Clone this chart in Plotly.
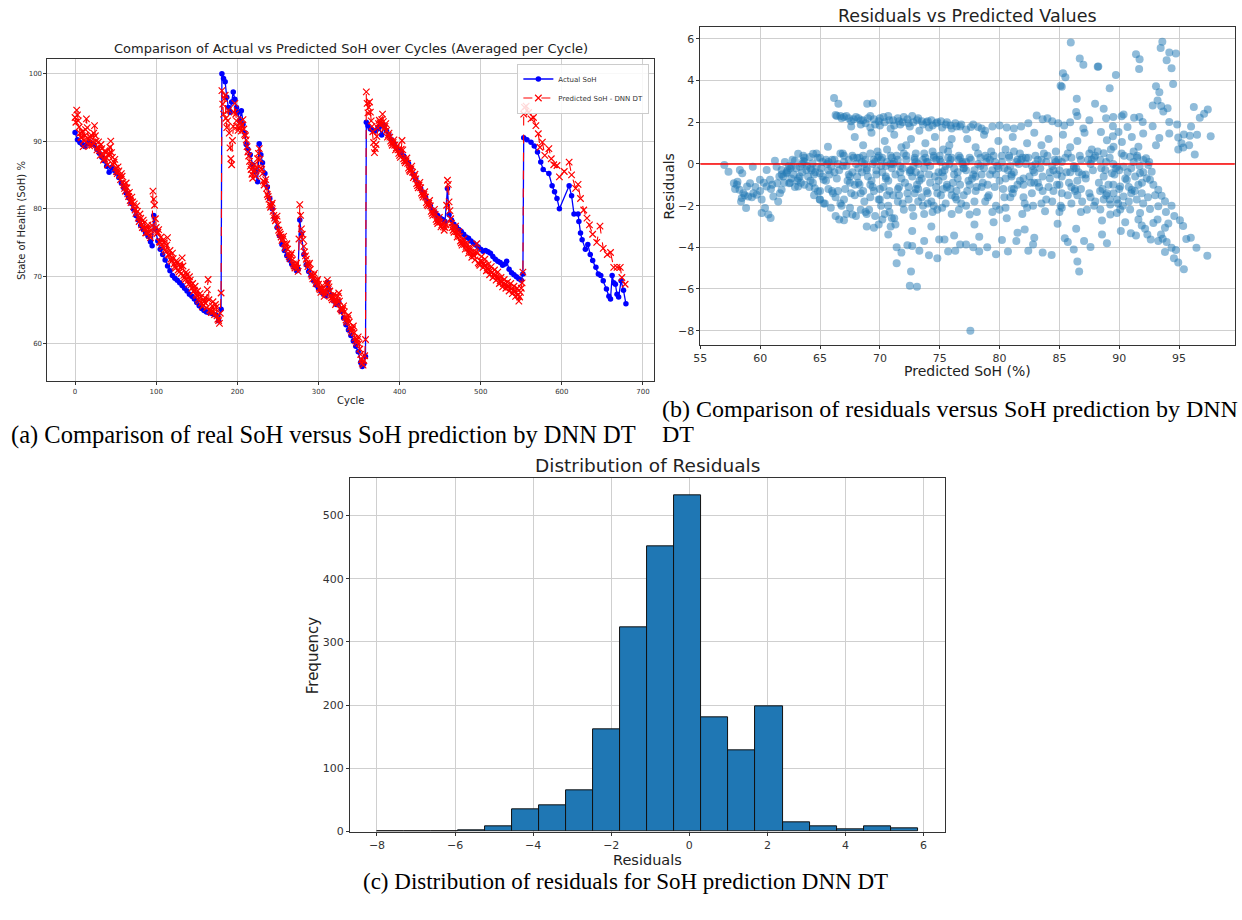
import plotly.graph_objects as go

# ---------------- Panel (a): SoH per cycle ----------------
act_cycles_1 = [0, 3, 6, 9, 12, 15, 18, 21, 24, 27, 30, 33, 36, 39, 42, 45, 48, 51, 54, 57,
                60, 63, 66, 69, 72, 75, 78, 81, 84, 87, 90, 93, 95, 97, 99, 102, 105, 108, 111, 114,
                117, 120, 123, 126, 129, 132, 135, 138, 141, 144, 147, 150, 153, 156, 159, 162, 165, 168, 171, 174,
                177, 180]
act_soh_1 = [91.3, 90.2, 89.8, 89.5, 89.2, 89.6, 89.9, 89.6, 89.4, 88.8, 88.2, 87.6, 87.1, 86.3, 85.4, 86.1, 85.7, 85.3, 84.6, 83.8,
             83.1, 82.3, 81.6, 80.8, 79.9, 79.0, 78.3, 77.5, 76.9, 76.4, 75.9, 75.1, 74.5, 79.0, 77.0, 75.2, 74.0, 73.2, 72.4, 71.5,
             70.8, 70.1, 69.7, 69.4, 69.0, 68.6, 68.2, 67.8, 67.3, 67.0, 66.6, 66.1, 65.6, 65.2, 64.9, 64.7, 64.6, 64.5, 64.3, 64.2,
             63.4, 65.1]
act_cycles_2 = [181, 183, 185, 187, 189, 191, 193, 195, 197, 199, 201, 203, 205, 207, 209, 211, 213, 216, 219, 222,
                225, 227, 229, 231, 234, 237, 240, 243, 246, 249, 252, 255, 258, 261, 264, 267, 270, 273, 275, 277,
                279, 282, 285, 288, 291, 294, 297, 300, 303, 306, 309, 311, 313, 316, 319, 322, 325, 328, 331, 334,
                337, 340, 343, 346, 349, 352, 354, 356, 358]
act_soh_2 = [100.0, 99.3, 98.8, 96.5, 95.0, 94.3, 95.8, 97.3, 96.2, 95.0, 94.3, 93.0, 94.5, 92.5, 91.3, 89.5, 88.8, 88.0, 86.5, 85.5,
             84.0, 89.6, 88.0, 86.8, 85.2, 83.2, 81.5, 80.0, 78.6, 77.2, 76.0, 74.7, 73.8, 73.0, 72.4, 71.8, 71.3, 70.8, 71.0, 78.3,
             76.2, 73.2, 71.7, 70.7, 70.1, 69.3, 68.7, 68.2, 67.8, 67.4, 67.1, 69.1, 68.0, 67.2, 66.3, 65.8, 66.2, 64.8, 63.8, 62.8,
             62.0, 61.2, 60.4, 59.6, 58.8, 57.2, 56.6, 57.0, 58.1]
act_cycles_3 = [359, 361, 364, 367, 370, 373, 375, 378, 381, 384, 387, 390, 393, 396, 399, 402, 405, 408, 411, 414,
                417, 420, 423, 426, 429, 432, 435, 438, 441, 444, 447, 450, 453, 456, 459, 461, 464, 467, 470, 473,
                476, 479, 482, 485, 488, 491, 494, 497, 500, 503, 506, 509, 512, 515, 518, 521, 524, 527, 530, 532,
                535, 538, 541, 544, 547, 550, 552]
act_soh_3 = [92.8, 92.3, 91.8, 91.6, 91.5, 91.8, 92.1, 90.9, 92.3, 91.5, 90.9, 90.2, 89.6, 89.1, 88.7, 88.3, 87.8, 87.2, 86.7, 86.0,
             85.1, 84.4, 83.6, 83.0, 82.4, 81.7, 81.0, 80.4, 79.8, 79.4, 79.0, 78.6, 78.4, 78.1, 83.0, 79.1, 78.3, 77.7, 77.3, 76.9,
             76.6, 76.2, 75.8, 75.6, 75.2, 74.9, 74.6, 74.3, 74.0, 73.7, 73.8, 73.6, 73.4, 72.9, 72.5, 72.2, 72.0, 71.6, 71.8, 72.2,
             71.0, 70.5, 70.2, 69.9, 69.6, 69.4, 70.3]
act_cycles_4 = [553, 557, 562, 566, 570, 574, 577, 584, 588, 591, 594, 597, 609, 612, 615, 620, 621, 623, 625, 629,
                632, 635, 638, 642, 645, 648, 651, 655, 658, 660, 662, 664, 666, 668, 670, 673, 676, 679]
act_soh_4 = [90.5, 90.2, 89.85, 89.3, 88.4, 86.9, 85.8, 85.2, 83.4, 82.5, 81.5, 80.0, 83.4, 81.9, 79.2, 79.2, 78.1, 76.4, 75.4, 74.0,
             74.7, 73.2, 72.3, 71.3, 70.3, 70.1, 69.3, 68.1, 67.0, 66.6, 70.1, 69.0, 68.8, 67.3, 66.9, 69.3, 67.9, 65.9]

pred_cycles_1 = [0, 2, 4, 6, 8, 10, 12, 14, 16, 18, 20, 22, 24, 26, 28, 30, 32, 34, 36, 38,
                 40, 42, 44, 46, 48, 50, 52, 54, 56, 58, 60, 62, 64, 66, 68, 70, 72, 74, 76, 78,
                 80, 82, 84, 86, 88, 90, 92, 94, 96, 98, 100, 102, 104, 106, 108, 110, 112, 114, 116, 118,
                 120, 122, 124, 126, 128, 130, 132, 134, 136, 138, 140, 142, 144, 146, 148, 150, 152, 154, 156, 158,
                 160, 162, 164, 166, 168, 170, 172, 174, 176, 178, 180]
pred_soh_1 = [93.5, 94.6, 93.0, 91.2, 90.5, 89.2, 90.8, 93.3, 90.4, 89.3, 90.9, 89.8, 92.3, 90.0, 89.1, 88.6, 89.5, 88.0, 87.4, 88.3,
              86.5, 88.2, 90.0, 87.6, 86.9, 86.0, 85.2, 85.6, 84.3, 84.8, 83.5, 82.6, 83.1, 81.8, 81.2, 81.7, 80.3, 79.8, 80.4, 78.6,
              79.2, 77.6, 78.3, 77.0, 76.4, 77.6, 76.0, 76.8, 82.6, 80.5, 77.2, 76.5, 75.1, 75.8, 74.3, 74.9, 73.6, 75.7, 73.1, 72.5,
              73.4, 71.8, 71.2, 72.0, 70.6, 71.3, 72.7, 70.1, 69.5, 70.2, 68.8, 69.4, 68.2, 67.7, 68.5, 67.1, 66.6, 67.4, 66.0, 65.7,
              66.8, 65.3, 69.5, 65.0, 64.6, 66.2, 64.3, 65.4, 63.6, 63.0, 67.5]
pred_cycles_1b = [1, 3, 5, 7, 9, 11, 13, 15, 17, 19, 21, 23, 25, 27, 29, 31, 33, 35, 37, 39,
                  41, 43, 45, 47, 49, 51, 53, 55, 57, 59, 61, 63, 65, 67, 69, 71, 73, 75, 77, 79,
                  81, 83, 85, 87, 89, 91, 93, 95, 97, 99, 101, 103, 105, 107, 109, 111, 113, 115, 117, 119,
                  121, 123, 125, 127, 129, 131, 133, 135, 137, 139, 141, 143, 145, 147, 149, 151, 153, 155, 157, 159,
                  161, 163, 165, 167, 169, 171, 173, 175, 177, 179]
pred_soh_1b = [92.8, 93.9, 92.1, 90.6, 91.4, 90.1, 91.7, 92.0, 89.6, 90.6, 89.4, 91.2, 90.8, 88.7, 89.9, 87.9, 88.9, 87.2, 88.6, 87.5,
               87.9, 89.1, 88.3, 86.5, 87.3, 85.5, 86.2, 84.9, 85.2, 83.9, 83.0, 83.8, 82.2, 82.4, 80.9, 81.0, 80.7, 79.3, 79.6, 78.1,
               78.6, 77.2, 77.9, 76.4, 77.1, 76.5, 75.7, 77.5, 81.4, 78.5, 76.3, 76.9, 75.0, 74.7, 75.4, 73.9, 74.6, 73.2, 73.8, 72.2,
               72.6, 71.4, 72.3, 70.9, 71.7, 70.4, 71.5, 69.8, 70.6, 69.3, 69.9, 68.7, 68.9, 67.9, 67.3, 67.8, 66.3, 66.9, 65.5, 66.2,
               66.0, 68.0, 66.5, 64.9, 65.6, 64.7, 65.8, 64.1, 63.4, 64.5]
pred_cycles_2 = [181, 183, 185, 187, 189, 191, 193, 195, 197, 199, 201, 203, 205, 207, 209, 211, 213, 215, 217, 219,
                 221, 223, 225, 227, 229, 231, 233, 235, 237, 239, 241, 243, 245, 247, 249, 251, 253, 255, 257, 259,
                 261, 263, 265, 267, 269, 271, 273, 275, 277, 279, 281, 283, 285, 287, 289, 291, 293, 295, 297, 299,
                 301, 303, 305, 307, 309, 311, 313, 315, 317, 319, 321, 323, 325, 327, 329, 331, 333, 335, 337, 339,
                 341, 343, 345, 347, 349, 351, 353, 355, 357, 358]
pred_soh_2 = [97.5, 94.0, 96.8, 92.0, 94.6, 89.0, 86.5, 92.2, 95.6, 93.0, 91.6, 92.7, 91.5, 93.2, 91.0, 90.2, 88.4, 87.0, 85.8, 84.5,
              86.5, 84.8, 87.4, 88.9, 86.0, 85.2, 83.5, 84.3, 82.1, 81.4, 80.2, 80.8, 79.0, 78.2, 78.9, 76.8, 76.2, 75.3, 75.9, 74.2,
              74.8, 73.3, 72.6, 73.4, 71.8, 71.2, 71.9, 70.7, 80.6, 77.0, 75.4, 73.6, 72.5, 71.4, 71.9, 70.3, 69.6, 70.4, 68.9, 69.5,
              68.2, 67.6, 68.6, 67.0, 67.8, 69.4, 68.4, 67.1, 66.5, 67.3, 65.8, 66.4, 67.5, 65.2, 64.8, 65.6, 63.9, 63.2, 64.2, 62.4,
              61.7, 62.6, 60.8, 60.1, 61.0, 59.2, 57.6, 56.8, 58.2, 60.6]
pred_cycles_2b = [182, 184, 186, 188, 190, 192, 194, 196, 198, 200, 202, 204, 206, 208, 210, 212, 214, 216, 218, 220,
                  222, 224, 226, 228, 230, 232, 234, 236, 238, 240, 242, 244, 246, 248, 250, 252, 254, 256, 258, 260,
                  262, 264, 266, 268, 270, 272, 274, 276, 278, 280, 282, 284, 286, 288, 290, 292, 294, 296, 298, 300,
                  302, 304, 306, 308, 310, 312, 314, 316, 318, 320, 322, 324, 326, 328, 330, 332, 334, 336, 338, 340,
                  342, 344, 346, 348, 350, 352, 354, 356]
pred_soh_2b = [95.5, 96.3, 93.4, 93.0, 91.2, 87.4, 90.1, 94.3, 94.0, 92.2, 92.0, 92.9, 92.4, 91.8, 90.8, 89.2, 87.8, 86.3, 85.1, 85.6,
               85.7, 86.0, 88.2, 87.3, 85.8, 84.1, 83.9, 83.0, 81.8, 80.6, 80.5, 79.6, 78.6, 78.4, 77.6, 76.5, 75.8, 75.5, 74.8, 74.6,
               74.0, 72.9, 73.1, 72.4, 71.5, 71.6, 71.2, 75.5, 79.0, 76.2, 74.4, 73.0, 71.9, 71.7, 71.0, 70.0, 70.1, 69.4, 69.2, 68.8,
               68.0, 68.1, 67.7, 67.4, 68.8, 68.9, 67.8, 66.8, 66.9, 66.5, 66.1, 67.0, 66.3, 65.0, 65.2, 64.7, 63.5, 63.7, 63.2, 62.0,
               62.2, 61.6, 60.4, 60.6, 60.0, 58.4, 57.1, 57.5]
pred_cycles_3 = [359, 361, 363, 365, 367, 369, 371, 373, 375, 377, 379, 381, 383, 385, 387, 389, 391, 393, 395, 397,
                 399, 401, 403, 405, 407, 409, 411, 413, 415, 417, 419, 421, 423, 425, 427, 429, 431, 433, 435, 437,
                 439, 441, 443, 445, 447, 449, 451, 453, 455, 457, 459, 461, 463, 465, 467, 469, 471, 473, 475, 477,
                 479, 481, 483, 485, 487, 489, 491, 493, 495, 497, 499, 501, 503, 505, 507, 509, 511, 513, 515, 517,
                 519, 521, 523, 525, 527, 529, 531, 533, 535, 537, 539, 541, 543, 545, 547, 549, 551, 552]
pred_soh_3 = [97.3, 94.2, 95.8, 93.0, 91.4, 88.3, 89.5, 92.0, 93.1, 92.4, 94.0, 91.8, 92.6, 90.6, 91.2, 90.0, 89.4, 90.2, 88.7, 89.3,
              88.2, 87.6, 90.1, 87.4, 86.8, 87.5, 86.0, 85.5, 86.3, 84.6, 85.1, 83.7, 83.1, 83.9, 82.3, 81.7, 82.5, 80.9, 80.4, 81.2,
              79.6, 79.0, 79.9, 78.4, 77.8, 78.7, 77.3, 77.9, 76.8, 77.6, 84.2, 81.0, 78.5, 77.2, 76.5, 77.4, 75.8, 76.6, 75.2, 74.6,
              75.5, 74.0, 74.8, 73.4, 74.2, 72.8, 73.6, 72.4, 74.8, 72.0, 71.6, 72.9, 71.3, 72.5, 70.8, 71.7, 70.2, 71.4, 69.8, 70.9,
              69.4, 70.6, 68.9, 69.8, 68.4, 69.5, 68.2, 69.1, 67.8, 68.9, 67.4, 68.5, 67.0, 68.2, 66.3, 67.6, 69.0, 70.6]
pred_cycles_3b = [360, 362, 364, 366, 368, 370, 372, 374, 376, 378, 380, 382, 384, 386, 388, 390, 392, 394, 396, 398,
                  400, 402, 404, 406, 408, 410, 412, 414, 416, 418, 420, 422, 424, 426, 428, 430, 432, 434, 436, 438,
                  440, 442, 444, 446, 448, 450, 452, 454, 456, 458, 460, 462, 464, 466, 468, 470, 472, 474, 476, 478,
                  480, 482, 484, 486, 488, 490, 492, 494, 496, 498, 500, 502, 504, 506, 508, 510, 512, 514, 516, 518,
                  520, 522, 524, 526, 528, 530, 532, 534, 536, 538, 540, 542, 544, 546, 548, 550]
pred_soh_3b = [95.6, 95.0, 94.3, 92.2, 89.8, 88.9, 90.7, 92.6, 92.7, 93.2, 92.9, 92.2, 91.6, 90.9, 90.6, 89.7, 89.8, 89.4, 89.0, 88.7,
               87.9, 88.8, 88.7, 87.1, 87.1, 86.7, 85.7, 85.9, 85.4, 84.8, 84.4, 83.4, 83.5, 83.1, 82.0, 82.1, 81.7, 80.6, 80.8, 80.4,
               79.3, 79.4, 79.1, 78.1, 78.2, 78.0, 77.6, 77.3, 77.2, 80.5, 83.6, 79.7, 77.8, 76.8, 77.0, 76.6, 76.2, 75.9, 74.9, 75.0,
               74.7, 74.4, 74.1, 73.8, 73.5, 73.2, 73.0, 73.6, 73.4, 71.8, 72.2, 72.1, 71.9, 71.6, 71.2, 70.9, 70.8, 70.6, 70.3, 70.1,
               70.0, 69.7, 69.3, 69.1, 68.9, 68.8, 68.6, 68.4, 68.3, 68.1, 67.9, 67.7, 67.6, 67.2, 66.9, 68.2]
pred_cycles_4 = [553, 554, 556, 559, 562, 565, 568, 571, 573, 576, 579, 584, 587, 590, 594, 597, 603, 609, 612, 617,
                 620, 623, 627, 631, 634, 638, 643, 647, 651, 656, 660, 664, 668, 672, 674, 678]
pred_soh_4 = [94.0, 95.0, 95.2, 94.25, 93.3, 93.5, 92.3, 91.1, 89.1, 89.85, 87.9, 88.9, 87.4, 86.5, 86.4, 84.7, 85.5, 86.9, 85.0, 83.0,
              83.6, 81.5, 79.8, 78.6, 77.6, 76.2, 75.0, 77.4, 74.1, 73.2, 73.5, 71.3, 71.3, 71.3, 69.8, 68.8]

# ---------------- Panel (b): residuals vs predicted ----------------
pred_b1 = [57.0, 57.35, 57.8, 58.05, 58.3, 58.5, 58.27, 58.6, 58.9, 59.15,
           58.46, 58.82, 59.0, 59.43, 59.38, 59.7, 59.98, 60.12, 60.4, 60.12,
           60.68, 60.87, 60.54, 60.82, 60.54, 61.23, 61.1, 61.43, 61.65, 61.79,
           61.37, 61.79, 62.06, 61.93, 62.2, 62.42, 62.62, 62.9, 63.17, 63.3,
           63.17, 63.59, 63.86, 64.14, 64.42, 64.36, 64.7, 64.56, 64.83, 64.97,
           65.3, 65.66, 65.94, 66.08, 64.97, 57.9, 58.1, 58.7, 59.6, 60.0,
           61.0, 61.6, 62.3, 62.6, 62.8, 63.0, 63.5, 63.7, 64.0, 64.3,
           64.8, 65.1, 65.5, 65.8, 62.0, 62.5, 63.3, 63.9, 64.6, 65.2,
           65.7, 66.0, 60.3, 59.3, 61.8, 62.4, 63.6, 64.2, 65.0, 65.6,
           64.5, 65.0, 65.4, 65.9, 64.1, 63.4, 62.9, 61.5, 60.9, 58.4]
resid_b1 = [-0.05, -0.37, -0.92, -1.0, -0.29, -0.44, -1.24, -1.4, -1.08, -0.92,
            -1.63, -2.11, -1.56, -1.4, -0.13, -1.48, -0.76, -1.71, -2.11, -2.35,
            -2.43, -2.59, -0.29, -0.76, -1.08, 0.16, -1.56, -0.92, -1.4, -1.24,
            -0.13, -0.29, 0.1, -0.6, -0.44, -0.92, -0.13, 0.16, 0.49, -0.13,
            -1.08, 0.16, -0.29, 0.33, 0.49, 0.02, -0.13, -1.16, -1.32, -0.44,
            -0.76, 0.83, -0.13, -1.4, -1.71, -1.2, -0.85, -1.5, -1.1, -1.3,
            -1.0, -0.6, -0.3, -0.7, -0.5, -0.2, -0.4, 0.1, -0.6, -0.3,
            0.3, -0.2, 0.2, -0.5, -0.9, -0.2, -0.6, -0.1, -0.4, 0.1,
            -0.3, 0.2, -0.9, -1.6, -0.5, -0.1, 0.4, -0.8, 0.3, 0.0,
            -1.5, -1.7, -1.9, -2.1, -1.1, -0.9, -1.1, -1.8, -1.2, -1.8]
pred_b2 = [66.17, 66.53, 68.94, 69.4, 66.4, 66.7, 67.0, 67.4, 67.8, 68.2,
           68.6, 69.0, 69.5, 69.9, 70.3, 70.7, 71.1, 71.5, 71.9, 72.3,
           72.7, 73.1, 73.5, 73.9, 74.3, 74.7, 75.1, 75.5, 75.9, 76.3,
           76.7, 67.6, 68.4, 69.2, 70.0, 70.9, 71.7, 72.5, 73.3, 74.1,
           67.9, 68.6, 69.3, 69.8, 70.4, 71.2, 71.8, 72.6, 73.0, 73.8,
           74.6, 75.3, 76.0, 76.6, 68.1, 70.6, 72.2, 74.4, 75.8, 66.9,
           66.2, 66.6, 67.0, 67.4, 67.8, 68.2, 68.6, 69.0, 69.4, 69.8,
           70.2, 70.6, 71.0, 71.4, 71.8, 72.2, 72.6, 73.0, 73.4, 73.8,
           74.2, 74.6, 75.0, 75.4, 75.8, 76.2, 76.6, 77.0, 66.4, 66.9,
           67.3, 67.7, 68.1, 68.5, 68.9, 69.3, 69.7, 70.1, 70.5, 70.9,
           71.3, 71.7, 72.1, 72.5, 72.9, 73.3, 73.7, 74.1, 74.5, 74.9,
           75.3, 75.7, 76.1, 76.5, 76.9, 68.0, 69.6, 71.1, 72.8, 74.0,
           66.3, 66.7, 67.1, 67.5, 67.9, 68.3, 68.7, 69.1, 69.5, 69.9,
           70.3, 70.7, 71.1, 71.5, 71.9, 72.3, 72.7, 73.1, 73.5, 73.9,
           74.3, 74.7, 75.1, 75.5, 75.9, 76.3, 76.7, 67.2, 68.0, 68.8,
           69.6, 70.4, 71.2, 72.0, 72.8, 73.6, 74.4, 75.2, 76.0, 76.8,
           66.6, 67.7, 68.9, 69.5, 70.2, 70.9, 71.3, 70.7, 71.4, 71.8,
           71.4, 72.3, 72.7, 72.7, 73.3, 73.7, 74.3, 74.1, 74.8, 74.95,
           75.4, 75.7, 76.2, 76.3, 76.7, 72.6, 72.5, 73.1, 67.0, 69.9,
           66.5, 67.5, 68.4, 69.2, 70.0, 70.8, 71.6, 72.4, 73.2, 74.0,
           74.8, 75.6, 76.4, 67.0, 68.8, 70.5, 72.0, 73.6, 75.0, 76.0]
resid_b2 = [3.17, 2.89, 2.89, 2.92, 2.3, 2.3, 2.25, 2.2, 2.15, 2.2,
            2.1, 2.2, 2.15, 2.05, 2.25, 2.3, 2.1, 2.2, 2.0, 2.15,
            2.3, 2.1, 2.05, 2.0, 2.1, 1.95, 2.05, 1.9, 1.85, 1.95,
            1.8, 1.8, 1.9, 1.75, 1.85, 1.7, 1.9, 1.8, 1.6, 1.75,
            1.3, 0.9, 1.5, 0.6, 1.1, 1.4, 0.8, 1.2, 0.5, 1.0,
            1.3, 0.7, 1.2, 0.4, 0.3, 0.7, 0.9, 0.6, 0.9, 0.5,
            0.2, -0.3, 0.1, -0.5, 0.3, -0.2, 0.4, -0.6, 0.0, 0.3,
            -0.4, 0.1, -0.2, 0.4, -0.7, 0.2, -0.3, 0.1, -0.5, 0.3,
            -0.1, -0.6, 0.2, -0.3, 0.0, -0.5, 0.2, -0.2, -0.7, -0.1,
            -0.8, -0.4, -0.6, 0.1, -0.3, -0.8, -0.5, 0.2, -0.7, 0.4,
            -0.5, -0.1, -0.9, -0.4, 0.3, -0.8, -0.2, -0.5, 0.4, -0.8,
            -0.6, 0.3, -0.9, -0.4, 0.1, 0.0, 0.1, 0.0, -0.1, 0.1,
            -1.6, -1.9, -1.2, -2.1, -1.5, -1.0, -1.8, -2.2, -1.3, -1.7,
            -1.1, -2.0, -1.5, -1.2, -1.9, -1.4, -2.1, -1.0, -1.6, -1.3,
            -1.8, -1.1, -1.5, -1.9, -1.2, -1.6, -1.0, -2.4, -2.5, -2.3,
            -2.5, -2.4, -2.6, -2.2, -2.5, -2.0, -2.3, -2.1, -2.4, -1.9,
            -2.67, -2.43, -3.0, -3.06, -2.67, -3.0, -2.9, -3.38, -4.0, -4.25,
            -4.76, -3.9, -3.94, -3.22, -4.17, -3.7, -3.0, -4.38, -4.52, -3.62,
            -3.62, -4.2, -3.43, -4.17, -3.86, -5.16, -5.84, -5.89, -2.7, -2.9,
            -1.3, -0.9, -1.4, -1.0, -1.7, -1.3, -1.1, -1.7, -1.2, -1.9,
            -1.4, -1.1, -1.3, 0.4, 0.2, -0.1, 0.5, 0.2, 0.4, 0.3]
pred_b3 = [85.95, 86.7, 87.0, 88.2, 85.3, 85.5, 85.1, 85.2, 86.45, 87.98,
           86.4, 77.6, 78.2, 78.8, 79.4, 80.0, 80.6, 81.2, 81.8, 82.4,
           83.1, 83.6, 84.0, 84.4, 84.9, 85.4, 85.9, 86.5, 87.0, 87.5,
           77.3, 78.0, 78.7, 79.3, 79.9, 80.5, 81.1, 81.7, 82.3, 82.9,
           83.5, 84.1, 84.7, 85.3, 85.9, 86.5, 87.1, 87.7, 78.4, 80.8,
           77.2, 77.6, 78.0, 78.4, 78.8, 79.2, 79.6, 80.0, 80.4, 80.8,
           81.2, 81.6, 82.0, 82.4, 82.8, 83.2, 83.6, 84.0, 84.4, 84.8,
           85.2, 85.6, 86.0, 86.4, 86.8, 87.2, 87.6, 88.0, 77.4, 77.8,
           78.6, 79.4, 80.2, 81.0, 81.8, 82.6, 83.4, 84.2, 85.0, 85.8,
           86.6, 87.4, 78.2, 79.8, 81.4, 83.0, 84.6, 86.2, 87.8, 82.2,
           77.3, 77.9, 78.5, 79.1, 79.7, 80.3, 80.9, 81.5, 82.1, 82.7,
           83.3, 83.9, 84.5, 85.1, 85.7, 86.3, 86.9, 87.5, 78.1, 80.0,
           81.9, 83.8, 85.2, 86.8, 87.9, 79.0, 81.0, 82.9, 84.8, 86.0,
           77.5, 77.9, 78.3, 77.2, 77.8, 78.3, 78.97, 79.7, 80.2, 80.7,
           81.4, 81.5, 82.1, 82.9, 82.8, 82.4, 83.6, 84.35, 84.85, 85.45,
           85.7, 86.5, 86.65, 86.4, 87.06, 87.6, 86.2, 77.56, 79.5, 80.6]
resid_b3 = [5.83, 5.06, 4.76, 4.67, 4.35, 4.16, 3.76, 3.71, 3.13, 2.89,
            2.49, 1.78, 1.78, 1.6, 1.8, 1.85, 1.75, 1.7, 1.8, 1.95,
            2.33, 2.15, 2.2, 2.05, 1.95, 1.85, 2.0, 2.3, 1.7, 2.1,
            1.2, 0.8, 1.4, 0.6, 1.1, 0.7, 1.3, 0.5, 1.0, 1.5,
            0.9, 1.2, 0.6, 1.4, 0.8, 1.1, 1.5, 0.7, 0.3, 0.4,
            -0.3, 0.2, -0.6, -0.1, 0.4, -0.5, 0.1, -0.8, -0.2, 0.3,
            -0.4, 0.0, -0.7, 0.3, -0.3, 0.2, -0.6, 0.4, -0.1, -0.5,
            0.1, -0.4, 0.3, -0.2, 0.2, -0.7, 0.0, 0.4, -0.8, -0.5,
            -0.9, -0.3, 0.1, -0.6, 0.2, -0.9, -0.2, -0.7, -0.3, -0.9,
            -0.4, 0.2, 0.0, -0.1, 0.1, 0.0, 0.2, -0.1, -0.3, 0.0,
            -1.3, -1.8, -1.1, -1.5, -2.0, -1.2, -1.6, -1.0, -1.9, -1.4,
            -1.1, -1.7, -1.3, -2.0, -1.5, -1.2, -1.8, -1.4, -2.3, -2.2,
            -2.4, -2.27, -2.1, -2.3, -2.0, -1.0, -1.2, -0.9, -1.0, -1.1,
            -2.43, -2.9, -3.49, -3.86, -4.0, -4.2, -4.0, -4.33, -3.65, -4.2,
            -3.7, -3.3, -3.14, -3.54, -3.86, -4.17, -4.25, -4.37, -2.87, -3.57,
            -3.75, -4.68, -5.16, -3.11, -3.7, -3.98, -4.1, -8.0, -2.8, -2.6]
pred_b4 = [93.6, 93.46, 94.18, 94.73, 91.4, 91.7, 93.96, 94.37, 91.66, 88.25,
           89.72, 89.2, 94.5, 93.07, 93.35, 93.2, 92.8, 93.5, 94.04, 93.68,
           96.23, 97.4, 97.09, 96.73, 97.64, 94.18, 94.84, 95.4, 95.9, 94.93,
           95.84, 95.35, 94.93, 96.31, 94.18, 93.35, 93.07, 92.79, 92.0, 91.96,
           91.68, 91.24, 91.05, 90.69, 90.36, 90.2, 89.5, 88.9, 89.47, 89.94,
           89.47, 88.47, 88.7, 94.37, 95.07, 95.34, 95.98, 96.45, 97.36, 95.4,
           94.93, 94.57, 94.73, 94.37, 93.82, 93.96, 93.26, 93.63, 93.49, 94.1,
           93.82, 93.2, 92.85, 92.63, 92.35, 92.16, 91.88, 91.6, 91.4, 90.97,
           90.13, 88.97, 88.56, 88.56, 89.25, 89.8, 90.91, 91.74, 92.57, 93.26,
           93.82, 93.54, 93.26, 92.85, 92.57, 92.71, 92.3, 91.88, 91.46, 91.05,
           92.02, 92.24, 91.6, 90.91, 90.36, 89.8, 89.39, 88.83, 88.42, 90.63,
           90.08, 89.52, 88.97, 89.8, 89.25, 88.7, 88.42, 90.08, 90.36, 91.33,
           91.74, 92.43, 88.7, 89.52, 90.22, 88.97, 88.3, 88.9, 89.6, 90.4,
           91.0, 91.5, 92.0, 92.5, 89.1, 90.0, 90.8, 91.2, 88.6, 89.9,
           93.0, 95.2, 96.5, 94.6, 95.6, 90.5, 91.9, 89.3, 96.0, 93.9]
resid_b4 = [5.87, 5.56, 5.35, 5.3, 5.27, 5.03, 4.98, 4.59, 4.56, 4.68,
            4.27, 3.63, 3.84, 3.73, 3.44, 3.05, 2.81, 2.78, 2.68, 2.52,
            2.73, 2.62, 2.41, 2.22, 1.33, 2.02, 1.9, 1.41, 1.35, 1.27,
            0.9, 0.79, 0.7, 0.46, 1.46, 1.25, 0.9, 1.81, 1.46, 2.02,
            2.25, 2.22, 1.3, 1.78, 2.38, 2.29, 2.25, 2.2, 1.81, 1.54,
            1.33, 1.54, 2.65, -2.0, -2.7, -2.98, -3.54, -4.02, -4.41, -5.05,
            -4.73, -4.52, -4.13, -4.02, -4.22, -3.75, -3.7, -3.59, -3.38, -2.86,
            -3.06, -2.67, -2.83, -3.62, -3.38, -3.11, -2.95, -2.67, -3.43, -3.33,
            -3.22, -3.81, -3.38, -2.71, -2.43, -2.35, -2.19, -2.35, -2.16, -2.03,
            -1.79, -1.52, -1.24, -1.0, -0.76, -0.37, -0.68, -1.4, -1.71, -1.24,
            0.19, 0.27, 0.83, 0.35, -0.13, -0.13, -0.44, -0.29, 0.19, -0.76,
            -1.08, -1.4, -1.4, -1.71, -1.95, -1.71, -2.19, -2.19, -1.56, -0.6,
            -0.44, -0.05, 0.51, 0.83, 1.06, 1.14, -0.9, 0.1, -0.5, 0.4,
            -0.2, 0.3, -0.4, 0.1, -1.0, -0.3, -1.1, 0.6, -1.2, -1.9,
            -1.5, 1.0, 1.4, -2.5, -3.6, -2.8, -0.9, 0.7, 1.8, -2.3]
pred_b5 = [66.3, 66.8, 67.2, 67.6, 68.0, 68.4, 68.8, 69.2, 69.6, 70.0,
           70.4, 70.8, 71.2, 71.6, 72.0, 72.4, 72.8, 73.2, 73.6, 74.0,
           74.4, 74.8, 75.2, 75.6, 76.0, 76.4, 76.8, 77.2, 77.8, 78.5,
           62.2, 62.7, 63.2, 63.7, 64.2, 64.7, 65.2, 65.7, 66.2, 66.7,
           67.2, 67.7, 68.2, 68.7, 69.2, 69.7, 70.2, 70.7, 71.2, 71.7,
           72.2, 72.7, 73.2, 73.7, 74.2, 74.7, 75.2, 75.7, 76.2, 76.7,
           77.2, 77.7, 78.2, 78.7, 79.2, 79.7, 80.2, 80.7, 81.2, 81.7,
           82.2, 82.7, 83.2, 83.7, 84.2, 84.7, 85.2, 85.7, 86.2, 86.7,
           87.2, 87.7, 88.2, 88.7, 89.2, 89.7, 90.2, 90.7, 91.2, 91.7,
           62.5, 63.5, 64.5, 65.5, 66.5, 67.5, 68.5, 69.5, 70.5, 71.5,
           72.5, 73.5, 74.5, 75.5, 76.5, 77.5, 78.5, 79.5, 80.5, 81.5,
           82.5, 83.5, 84.5, 85.5, 86.5, 87.5, 88.5, 89.5, 90.5, 91.5,
           68.9, 70.9, 72.9, 74.9, 76.9, 78.9, 80.9, 82.9, 84.9, 86.9,
           69.9, 71.9, 73.9, 75.9, 77.9, 79.9, 81.9, 83.9, 85.9, 87.9,
           67.4, 68.3, 70.1, 71.0, 73.0, 75.1, 77.0, 79.0, 81.0, 83.0]
resid_b5 = [2.35, 2.2, 2.3, 2.05, 2.25, 2.1, 1.95, 2.3, 1.9, 2.2,
            2.0, 2.1, 1.85, 2.05, 2.25, 1.95, 2.0, 2.2, 1.9, 2.05,
            1.85, 2.0, 1.75, 2.0, 1.7, 1.8, 1.9, 1.65, 1.9, 1.7,
            -0.4, 0.2, -0.7, 0.3, -0.2, 0.5, -0.6, 0.1, -0.4, 0.5,
            -0.1, 0.4, -0.9, 0.0, 0.5, -0.3, 0.3, -0.8, 0.1, -0.4,
            0.4, -0.6, 0.0, 0.5, -0.9, 0.2, -0.4, 0.6, -0.2, 0.3,
            0.1, -0.7, 0.5, -0.2, 0.2, -0.5, 0.4, -0.3, 0.6, -0.8,
            0.3, -0.1, -0.9, 0.5, -0.4, 0.1, -0.6, 0.5, -0.2, 0.4,
            -0.5, 0.2, 0.6, -0.6, 0.3, -0.2, 0.5, -0.4, 0.1, -0.1,
            -0.9, 0.0, -0.5, -0.8, 0.0, -0.6, -0.4, 0.2, -0.6, 0.2,
            -0.3, -0.7, 0.3, -0.1, -0.7, 0.3, -0.5, 0.4, -0.7, 0.2,
            -0.6, 0.2, -0.3, 0.3, -0.8, 0.5, -0.2, 0.0, -0.7, 0.4,
            -0.2, 0.0, 0.2, -0.4, 0.0, 0.1, -0.1, -0.4, 0.2, -0.5,
            0.4, -0.2, 0.1, 0.2, -0.3, -0.2, 0.3, 0.1, -0.4, 0.3,
            0.2, 0.3, -0.1, 0.3, -0.4, 0.1, -0.2, 0.3, -0.5, 0.4]
pred_b6 = [65.3, 66.0, 66.8, 67.6, 68.4, 69.2, 70.0, 70.8, 71.6, 72.4,
           73.2, 74.0, 74.8, 75.6, 76.4, 77.2, 78.0, 78.8, 79.6, 80.4,
           81.2, 82.0, 82.8, 83.6, 84.4, 85.2, 86.0, 86.8, 87.6, 88.4,
           89.2, 90.0, 90.8, 91.6, 92.4, 65.7, 67.0, 68.6, 70.1, 71.5,
           73.0, 74.5, 76.0, 77.5, 79.0, 80.5, 82.0, 83.5, 85.0, 86.5,
           88.0, 89.5, 91.0, 92.0, 66.3, 68.9, 71.0, 73.7, 76.6, 79.4,
           82.3, 85.0, 87.3, 90.3, 67.9, 69.4, 72.9, 75.3, 78.1, 84.1,
           86.3, 88.9, 91.3, 81.1, 77.0, 70.6, 64.4, 63.7, 65.0, 63.1]
resid_b6 = [-1.9, -1.3, -2.0, -1.4, -2.2, -1.6, -1.2, -2.3, -1.5, -1.1,
            -1.8, -1.4, -2.2, -1.0, -1.7, -2.0, -1.3, -1.8, -1.1, -1.6,
            -1.2, -1.6, -2.0, -1.3, -1.8, -1.4, -1.9, -1.2, -1.6, -1.3,
            -1.7, -1.2, -1.8, -1.0, -1.6, -1.2, -1.7, -1.3, -2.0, -1.8,
            -1.2, -2.0, -1.5, -1.0, -1.6, -2.1, -1.0, -1.9, -1.0, -1.5,
            -1.8, -1.0, -1.4, -1.9, -2.5, -2.4, -2.6, -2.4, -2.2, -2.3,
            -2.1, -2.3, -2.2, -2.0, -1.0, -1.1, -1.4, -1.2, -1.1, -1.1,
            -1.3, -1.5, -1.3, -1.4, -1.5, -1.5, -0.9, -1.0, -1.3, -0.8]

# ---------------- Panel (c): histogram of residuals ----------------
bin_edges = [-8.0, -7.3075, -6.615, -5.9225, -5.23, -4.5375, -3.845, -3.1525, -2.46, -1.7675, -1.075,
             -0.3825, 0.31, 1.0025, 1.695, 2.3875, 3.08, 3.7725, 4.465, 5.1575, 5.85]
bin_counts = [1, 0, 0, 2, 9, 36, 41, 66, 162, 323, 451, 532, 180, 128, 198, 15, 9, 4, 8, 6]

# ---------------- build figure ----------------
W, H = 1242, 920
def px_x(v):
    return v / W
def px_y(v):
    return 1 - v / H

fig = go.Figure()

act_cycles = act_cycles_1 + act_cycles_2 + act_cycles_3 + act_cycles_4
act_soh = act_soh_1 + act_soh_2 + act_soh_3 + act_soh_4
pred_pairs = sorted(zip(pred_cycles_1 + pred_cycles_1b + pred_cycles_2 + pred_cycles_2b +
                        pred_cycles_3 + pred_cycles_3b + pred_cycles_4,
                        pred_soh_1 + pred_soh_1b + pred_soh_2 + pred_soh_2b +
                        pred_soh_3 + pred_soh_3b + pred_soh_4))
pred_cycles = [p[0] for p in pred_pairs]
pred_soh = [p[1] for p in pred_pairs]

fig.add_trace(go.Scatter(x=act_cycles, y=act_soh, mode="lines+markers", name="Actual SoH",
                         line=dict(color="#0000ff", width=1.3),
                         marker=dict(symbol="circle", size=5.5, color="#0000ff"),
                         xaxis="x", yaxis="y"))
fig.add_trace(go.Scatter(x=pred_cycles, y=pred_soh, mode="lines+markers", name="Predicted SoH - DNN DT",
                         line=dict(color="#ff0000", width=1.1, dash="dash"),
                         marker=dict(symbol="x-thin", size=6.5, color="#ff0000",
                                     line=dict(color="#ff0000", width=1.2)),
                         xaxis="x", yaxis="y"))

pred_b = pred_b1 + pred_b2 + pred_b3 + pred_b4 + pred_b5 + pred_b6
resid_b = resid_b1 + resid_b2 + resid_b3 + resid_b4 + resid_b5 + resid_b6
fig.add_trace(go.Scatter(x=pred_b, y=resid_b, mode="markers", showlegend=False,
                         marker=dict(color="#1f77b4", opacity=0.5, size=8, line=dict(width=0)),
                         xaxis="x2", yaxis="y2"))

centers = [(bin_edges[i] + bin_edges[i + 1]) / 2 for i in range(len(bin_counts))]
widths = [bin_edges[i + 1] - bin_edges[i] for i in range(len(bin_counts))]
fig.add_trace(go.Bar(x=centers, y=bin_counts, width=widths, showlegend=False,
                     marker=dict(color="#1f77b4", line=dict(color="#111111", width=1)),
                     xaxis="x3", yaxis="y3"))

fig.add_shape(type="line", xref="x2 domain", yref="y2", x0=0, x1=1, y0=0, y1=0,
              line=dict(color="#ff0000", width=1.5))

axis_common = dict(showline=True, linecolor="#333333", linewidth=1, mirror=True,
                   ticks="outside", ticklen=3, tickcolor="#333333",
                   showgrid=True, gridcolor="#cfcfcf", gridwidth=1, zeroline=False)

fig.update_layout(
    width=W, height=H, margin=dict(l=0, r=0, t=0, b=0),
    paper_bgcolor="white", plot_bgcolor="white",
    font=dict(family="DejaVu Sans", color="#222222"),
    xaxis=dict(domain=[px_x(40.7), px_x(651)], anchor="y", range=[-34, 714],
               tickvals=[0, 100, 200, 300, 400, 500, 600, 700],
               tickfont=dict(size=7, color="#333333"), **axis_common),
    yaxis=dict(domain=[px_y(384.3), px_y(59.3)], anchor="x", range=[54.4, 102.2],
               tickvals=[60, 70, 80, 90, 100],
               tickfont=dict(size=7, color="#333333"), **axis_common),
    xaxis2=dict(domain=[px_x(697.3), px_x(1234.7)], anchor="y2", range=[55.0, 99.65],
                tickvals=[55, 60, 65, 70, 75, 80, 85, 90, 95],
                tickfont=dict(size=11, color="#333333"), **axis_common),
    yaxis2=dict(domain=[px_y(347.7), px_y(27.7)], anchor="x2", range=[-8.69, 6.55],
                tickvals=[-8, -6, -4, -2, 0, 2, 4, 6],
                tickfont=dict(size=11, color="#333333"), **axis_common),
    xaxis3=dict(domain=[px_x(345), px_x(943)], anchor="y3", range=[-8.69, 6.54],
                tickvals=[-8, -6, -4, -2, 0, 2, 4, 6], layer="above traces",
                tickfont=dict(size=11, color="#333333"), **axis_common),
    yaxis3=dict(domain=[px_y(838), px_y(482)], anchor="x3", range=[0, 558.6],
                tickvals=[0, 100, 200, 300, 400, 500], layer="above traces",
                tickfont=dict(size=11, color="#333333"), **axis_common),
    bargap=0,
    legend=dict(x=px_x(646), y=px_y(64), xanchor="right", yanchor="top",
                font=dict(size=7, color="#333333"), bgcolor="rgba(255,255,255,0.85)",
                bordercolor="#cccccc", borderwidth=1, tracegroupgap=0, itemwidth=30),
)

ann = []
def add_text(text, x, y, size, rot=0, xanchor="center", family="DejaVu Sans", color="#222222"):
    ann.append(dict(text=text, x=x, y=y, xref="paper", yref="paper", showarrow=False,
                    xanchor=xanchor, yanchor="middle", textangle=rot, borderpad=0,
                    font=dict(size=size, family=family, color=color)))

# panel a
add_text("Comparison of Actual vs Predicted SoH over Cycles (Averaged per Cycle)", px_x(345.9), px_y(49), 13)
add_text("State of Health (SoH) %", px_x(14), px_y(221.8), 10, rot=-90)
add_text("Cycle", px_x(345.9), px_y(404), 10)
# panel b
add_text("Residuals vs Predicted Values", px_x(966), px_y(16), 17.5)
add_text("Residuals", px_x(666), px_y(187.7), 14, rot=-90)
add_text("Predicted SoH (%)", px_x(966), px_y(374), 14)
# panel c
add_text("Distribution of Residuals", px_x(644), px_y(469), 18.5)
add_text("Frequency", px_x(308), px_y(660), 15, rot=-90)
add_text("Residuals", px_x(644), px_y(867), 14.5)
# captions
serif = "Liberation Serif"
add_text("(a) Comparison of real SoH versus SoH prediction by DNN DT", px_x(3), px_y(438), 24.5,
         xanchor="left", family=serif, color="#000000")
add_text("(b) Comparison of residuals versus SoH prediction by DNN", px_x(658), px_y(412), 24,
         xanchor="left", family=serif, color="#000000")
add_text("DT", px_x(658), px_y(437), 24, xanchor="left", family=serif, color="#000000")
add_text("(c) Distribution of residuals for SoH prediction DNN DT", px_x(622), px_y(888), 23,
         family=serif, color="#000000")

fig.update_layout(annotations=ann)
fig.write_html("out.html")
